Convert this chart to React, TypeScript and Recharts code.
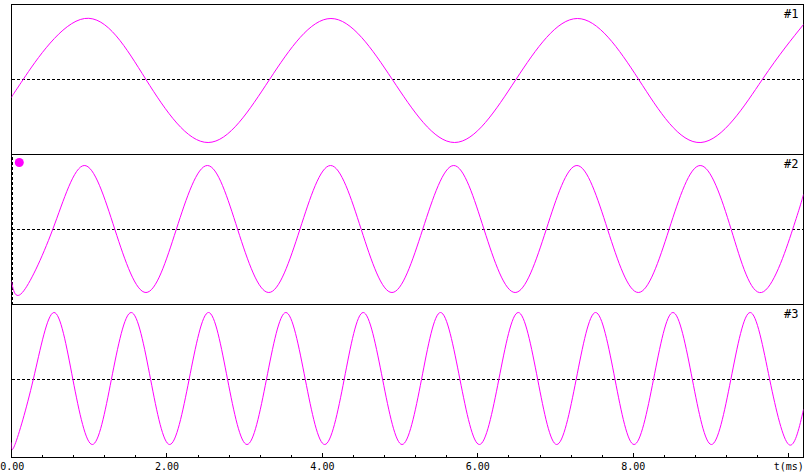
import React from 'react';
import { LineChart, Line, XAxis, YAxis, ReferenceLine, ReferenceArea, ReferenceDot } from 'recharts';

// ---- data ----
const t1 = [0, 0.15, 0.94, 1.73, 2.53, 3.32, 4.11, 4.9, 5.7, 6.49, 7.28, 8.07, 8.87, 9.66, 10.19];
const v1 = [-18, 0, 61, 0, -63, 0, 61, 0, -63, 0, 61, 0, -63, 0, 55];

const t2 = [0, 0.14, 0.53, 0.935, 1.33, 1.73, 2.12, 2.52, 2.91, 3.31, 3.71, 4.105, 4.5, 4.895, 5.29, 5.69, 6.08, 6.48, 6.88, 7.275, 7.67, 8.065, 8.46, 8.86, 9.26, 9.65, 10.05, 10.19];
const v2 = [-52, -63, 0, 64, 0, -63, 0, 64, 0, -63, 0, 64, 0, -63, 0, 64, 0, -63, 0, 64, 0, -63, 0, 64, 0, -63, 0, 35];

const t3 = [0, 0.045, 0.28, 0.545, 0.79, 1.04, 1.285, 1.54, 1.79, 2.035, 2.285, 2.535, 2.78, 3.03, 3.28, 3.53, 3.78, 4.03, 4.28, 4.525, 4.775, 5.025, 5.275, 5.52, 5.77, 6.02, 6.27, 6.52, 6.77, 7.015, 7.265, 7.515, 7.765, 8.01, 8.26, 8.51, 8.76, 9.005, 9.255, 9.505, 9.755, 10.0, 10.19];
const v3 = [-63, -65, 0, 67, 0, -65, 0, 67, 0, -65, 0, 67, 0, -65, 0, 67, 0, -65, 0, 67, 0, -65, 0, 67, 0, -65, 0, 67, 0, -65, 0, 67, 0, -65, 0, 67, 0, -65, 0, 67, 0, -65, -30];

const panelLabels = ['#1', '#2', '#3'];
const tTicks = [0, 0.4, 0.8, 1.2, 1.6, 2, 2.4, 2.8, 3.2, 3.6, 4, 4.4, 4.8, 5.2, 5.6, 6, 6.4, 6.8, 7.2, 7.6, 8, 8.4, 8.8, 9.2, 9.6, 10];
const majorTicks = [0, 2, 4, 6, 8, 10];
const tickLabels = ['0.00', '2.00', '4.00', '6.00', '8.00', 't(ms)'];

const cursorT = 0.013;
const markerT = 0.1;
const markerV = 67;

const build = (t: number[], v: number[]) => t.map((x, i) => ({ t: x, v: v[i] }));
const data1 = build(t1, v1);
const data2 = build(t2, v2);
const data3 = build(t3, v3);

const W = 807;
const T_MAX = 10.19;
const MAGENTA = '#ff00ff';
const FONT = '"DejaVu Sans Mono", "Liberation Mono", monospace';

const AxisTick = (props: any) => {
  const { x, y, payload } = props;
  const i = majorTicks.indexOf(payload.value);
  const len = i >= 0 ? 5 : 3;
  return (
    <g>
      <line x1={x} x2={x} y1={y - len} y2={y} stroke="#000" strokeWidth={1} shapeRendering="crispEdges" />
      {i >= 0 && (
        <text x={Math.max(x, 12.2)} y={y + 12.5} textAnchor="middle" fontFamily={FONT} fontSize={10} fill="#000">
          {tickLabels[i]}
        </text>
      )}
    </g>
  );
};

const labelStyle = (value: string) => ({
  value,
  position: 'insideTopRight' as const,
  offset: 5,
  fill: '#000',
  fontSize: 12,
  fontFamily: FONT,
});

export default function App() {
  return (
    <div style={{ position: 'absolute', left: 0, top: 0, width: W, height: 474, background: '#fff' }}>
      {/* Panel 1 */}
      <div style={{ position: 'absolute', left: 0, top: 0 }}>
        <LineChart width={W} height={155} data={data1} margin={{ top: 4.5, right: 3.5, bottom: 0.5, left: 11.5 }}>
          <XAxis type="number" dataKey="t" domain={[0, T_MAX]} allowDataOverflow hide />
          <YAxis type="number" domain={[-75, 75]} allowDataOverflow hide />
          <ReferenceArea x1={0} x2={T_MAX} y1={-75} y2={75} fill="none" stroke="#000" strokeWidth={1} shapeRendering="crispEdges" label={labelStyle(panelLabels[0])} />
          <ReferenceLine y={0} stroke="#000" strokeDasharray="3 2" shapeRendering="crispEdges" />
          <Line type="natural" dataKey="v" stroke={MAGENTA} strokeWidth={1} dot={false} isAnimationActive={false} />
        </LineChart>
      </div>
      {/* Panel 2 */}
      <div style={{ position: 'absolute', left: 0, top: 150 }}>
        <LineChart width={W} height={160} data={data2} margin={{ top: 4.5, right: 3.5, bottom: 5.5, left: 11.5 }}>
          <XAxis type="number" dataKey="t" domain={[0, T_MAX]} allowDataOverflow hide />
          <YAxis type="number" domain={[-75, 75]} allowDataOverflow hide />
          <ReferenceArea x1={0} x2={T_MAX} y1={-75} y2={75} fill="none" stroke="#000" strokeWidth={1} shapeRendering="crispEdges" label={labelStyle(panelLabels[1])} />
          <ReferenceLine y={0} stroke="#000" strokeDasharray="3 2" shapeRendering="crispEdges" />
          <ReferenceLine x={cursorT} stroke="#000" strokeDasharray="3 2" shapeRendering="crispEdges" />
          <Line type="natural" dataKey="v" stroke={MAGENTA} strokeWidth={1} dot={false} isAnimationActive={false} />
          <ReferenceDot x={markerT} y={markerV} r={4.5} fill={MAGENTA} stroke="none" />
        </LineChart>
      </div>
      {/* Panel 3 */}
      <div style={{ position: 'absolute', left: 0, top: 300 }}>
        <LineChart width={W} height={174} data={data3} margin={{ top: 4.5, right: 3.5, bottom: 0, left: 11.5 }}>
          <XAxis
            type="number"
            dataKey="t"
            domain={[0, T_MAX]}
            allowDataOverflow
            ticks={tTicks}
            interval={0}
            height={16.5}
            tickSize={0}
            tickMargin={0}
            tickLine={false}
            axisLine={{ stroke: '#000' }}
            tick={<AxisTick />}
          />
          <YAxis type="number" domain={[-78, 75]} allowDataOverflow hide />
          <ReferenceArea x1={0} x2={T_MAX} y1={-78} y2={75} fill="none" stroke="#000" strokeWidth={1} shapeRendering="crispEdges" label={labelStyle(panelLabels[2])} />
          <ReferenceLine y={0} stroke="#000" strokeDasharray="3 2" shapeRendering="crispEdges" />
          <Line type="natural" dataKey="v" stroke={MAGENTA} strokeWidth={1} dot={false} isAnimationActive={false} />
        </LineChart>
      </div>
    </div>
  );
}
